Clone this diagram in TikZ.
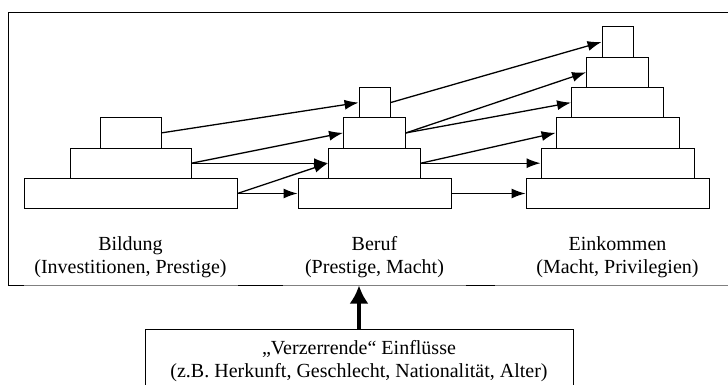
\documentclass[tikz,border=0pt]{standalone}
\usepackage{fontspec}
\setmainfont{Liberation Serif}
\usetikzlibrary{arrows.meta}

\tikzset{
  stufe/.style={draw, line width=0.9pt, inner sep=0pt, minimum height=30.3pt},
  pfeil/.style={-{Latex[length=14pt,width=10pt]}, line width=1.3pt},
  beschriftung/.style={align=center, font=\fontsize{20}{23}\selectfont}
}

\begin{document}
\begin{tikzpicture}[x=1pt, y=-1pt]
  \useasboundingbox (0,0) rectangle (728,385);

  % Rahmen
  \draw[line width=1pt] (740,12.3) -- (8.3,12.3) -- (8.3,285.5);
  \draw[gray, line width=0.8pt] (8.3,285.5) -- (740,285.5);
  \draw[line width=1pt] (8.3,285.5) -- (24,285.5)
    (238,285.5) -- (283,285.5)
    (466,285.5) -- (495,285.5);

  % Bildung
  \node[stufe, minimum width=61pt] (b1) at (130.5, 132.9) {};
  \node[stufe, minimum width=121pt] (b2) at (130.5, 163.2) {};
  \node[stufe, minimum width=213pt] (b3) at (130.5, 193.5) {};

  % Beruf
  \node[stufe, minimum width=31pt] (r1) at (374.5, 102.6) {};
  \node[stufe, minimum width=62pt] (r2) at (374.5, 132.9) {};
  \node[stufe, minimum width=92pt] (r3) at (374.5, 163.2) {};
  \node[stufe, minimum width=153pt] (r4) at (374.5, 193.5) {};

  % Einkommen
  \node[stufe, minimum width=31pt] (e1) at (617.5, 42.0) {};
  \node[stufe, minimum width=62pt] (e2) at (617.5, 72.3) {};
  \node[stufe, minimum width=92pt] (e3) at (617.5, 102.6) {};
  \node[stufe, minimum width=123pt] (e4) at (617.5, 132.9) {};
  \node[stufe, minimum width=153pt] (e5) at (617.5, 163.2) {};
  \node[stufe, minimum width=183pt] (e6) at (617.5, 193.5) {};

  \node[beschriftung] (bildung) at (130.5, 257) {Bildung\\(Investitionen, Prestige)};
  \node[beschriftung] (beruf) at (374.5, 257) {Beruf\\(Prestige, Macht)};
  \node[beschriftung] (einkommen) at (617.5, 257) {Einkommen\\(Macht, Privilegien)};

  \node[beschriftung, draw, line width=0.9pt, anchor=north, minimum width=428pt,
    inner ysep=11pt, text depth=40pt] (einfluss) at (359, 329)
    {„Verzerrende“ Einflüsse\\(z.B. Herkunft, Geschlecht, Nationalität, Alter)};
  \coordinate (rahmenunten) at (359, 285.5);

  \path[pfeil]
  (b1.east) edge (r1.west)
  (b2.east) edge (r2.west)
  (b2.east) edge (r3.west)
  (b3.east) edge (r3.west)
  (b3.east) edge (r4.west)
  (r1.east) edge (e1.west)
  (r2.east) edge (e2.west)
  (r2.east) edge (e3.west)
  (r3.east) edge (e4.west)
  (r3.east) edge (e5.west)
  (r4.east) edge (e6.west);
  \draw[-{Latex[length=18pt,width=19pt]}, line width=3.5pt] (einfluss.north) -- (rahmenunten);
\end{tikzpicture}
\end{document}
